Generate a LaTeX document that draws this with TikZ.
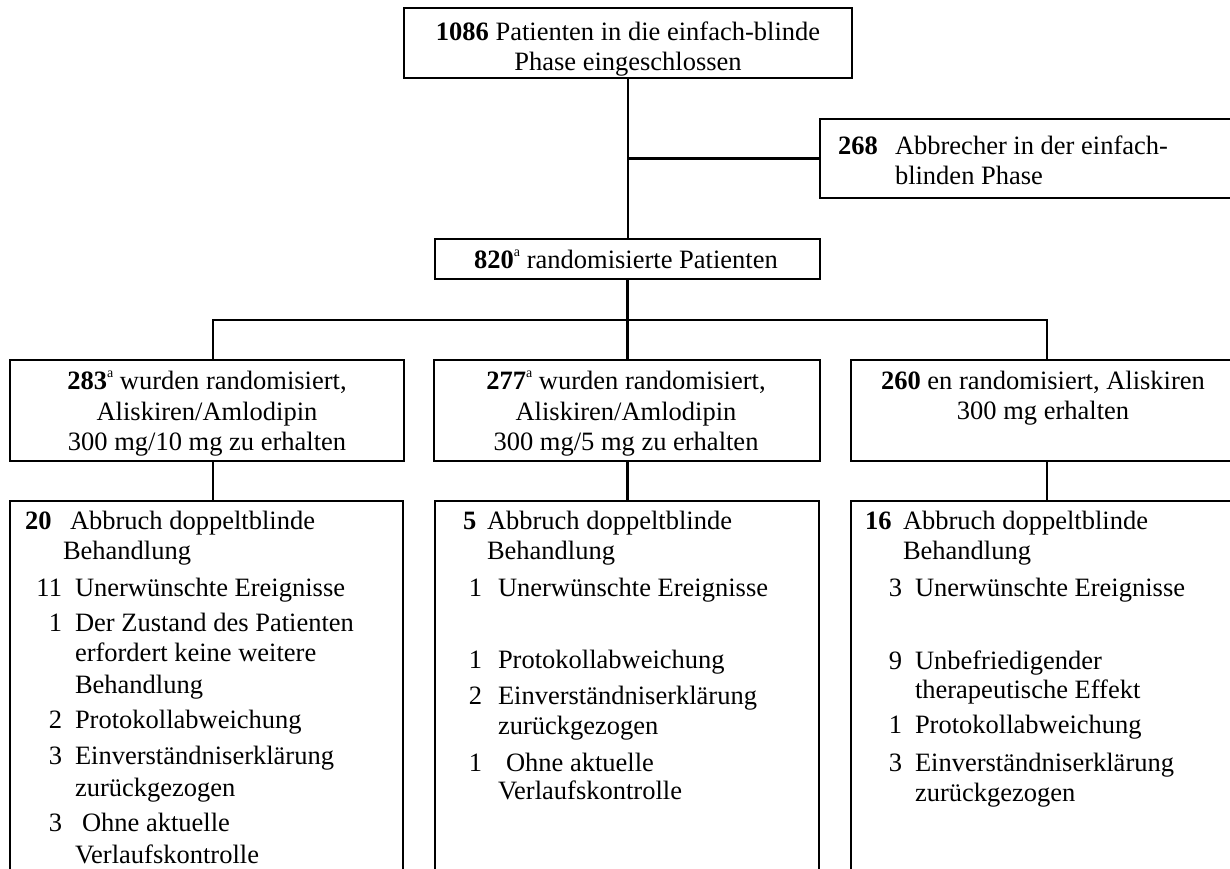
\documentclass[tikz,border=0pt]{standalone}
\usepackage{fontspec}
\setmainfont{Liberation Serif}
\newcommand\myfs{\fontsize{26.5}{30.5}\selectfont}
\newcommand\supa{\raisebox{0.42em}{\fontsize{14}{14}\selectfont a}}
\tikzset{
 box/.style={draw, line width=2.6pt, inner sep=0pt, outer sep=0pt},
 ln/.style={line width=2.6pt},
 txt/.style={inner sep=0pt, outer sep=0pt, font=\myfs},
 tw/.style={txt, anchor=base west},
 te/.style={txt, anchor=base east},
 tc/.style={txt, anchor=base},
}
\begin{document}
\begin{tikzpicture}[x=1pt,y=-1pt]
\useasboundingbox (0,0) rectangle (1230,868);
\clip (0,0) rectangle (1230,868);
% boxes
\node[box, minimum width=448pt, minimum height=70pt] (top) at (628,43) {};
\node[box, minimum width=480pt, minimum height=79pt] (abb) at (1060,158.5) {};
\node[box, minimum width=385pt, minimum height=40pt] (rand) at (627.5,259) {};
\node[box, minimum width=394pt, minimum height=101pt] (armA) at (207,410.5) {};
\node[box, minimum width=386pt, minimum height=101pt] (armB) at (627,410.5) {};
\node[box, minimum width=449pt, minimum height=101pt] (armC) at (1075.5,410.5) {};
\node[box, minimum width=393pt, minimum height=420pt] (outA) at (206.5,711) {};
\node[box, minimum width=384pt, minimum height=420pt] (outB) at (627,711) {};
\node[box, minimum width=449pt, minimum height=420pt] (outC) at (1075.5,711) {};
% connectors
\draw[ln] (top.south) -- (top.south |- rand.north);
\coordinate (br) at (top.south |- abb.west);
\draw[ln] (br) -- (abb.west);
\coordinate (jA) at (213,320);
\coordinate (jC) at (1047,320);
\draw[ln] (rand.south) -- (rand.south |- jA);
\draw[ln] (jA |- armA.north) -- (jA) -- (jC) -- (jC |- armC.north);
\draw[ln] (rand.south |- jA) -- (rand.south |- armB.north);
\draw[ln] (armA.south -| jA) -- (outA.north -| jA);
\draw[ln] (armB.south -| rand.south) -- (outB.north -| rand.south);
\draw[ln] (armC.south -| jC) -- (outC.north -| jC);
% top texts
\node[tc] (t1) at (628,40) {\textbf{1086} Patienten in die einfach-blinde};
\node[tc] (t2) at (628,70) {Phase eingeschlossen};
\node[tw] (b1n) at (838,154) {\textbf{268}};
\node[tw] (b1) at (895,154) {Abbrecher in der einfach-};
\node[tw] (b2) at (895,184) {blinden Phase};
\node[tc] (r1) at (626,268) {\textbf{820}\supa{} randomisierte Patienten};
% arms
\node[tc] (a1) at (207,389) {\textbf{283}\supa{} wurden randomisiert,};
\node[tc] (a2) at (207,420) {Aliskiren/Amlodipin};
\node[tc] (a3) at (207,450) {300 mg/10 mg zu erhalten};
\node[tc] (m1) at (626,389) {\textbf{277}\supa{} wurden randomisiert,};
\node[tc] (m2) at (626,420) {Aliskiren/Amlodipin};
\node[tc] (m3) at (626,450) {300 mg/5 mg zu erhalten};
\node[tc] (c1) at (1043,389) {\textbf{260} en randomisiert, Aliskiren};
\node[tc] (c2) at (1043,419) {300 mg erhalten};
% outcome A
\node[tw] (oa0) at (25,529) {\textbf{20}};
\node[tw] (oa1) at (70,529) {Abbruch doppeltblinde};
\node[tw] (oa2) at (63,559) {Behandlung};
\node[te] (oa3n) at (62,596) {11};
\node[tw] (oa3) at (75,596) {Unerwünschte Ereignisse};
\node[te] (oa4n) at (62,631) {1};
\node[tw] (oa4) at (75,631) {Der Zustand des Patienten};
\node[tw] (oa5) at (75,661) {erfordert keine weitere};
\node[tw] (oa6) at (75,693) {Behandlung};
\node[te] (oa7n) at (62,728) {2};
\node[tw] (oa7) at (75,728) {Protokollabweichung};
\node[te] (oa8n) at (62,764) {3};
\node[tw] (oa8) at (75,764) {Einverständniserklärung};
\node[tw] (oa9) at (75,796) {zurückgezogen};
\node[te] (oa10n) at (62,831) {3};
\node[tw] (oa10) at (82,831) {Ohne aktuelle};
\node[tw] (oa11) at (75,863) {Verlaufskontrolle};
% outcome B
\node[tw] (ob0) at (463,529) {\textbf{5}};
\node[tw] (ob1) at (487,529) {Abbruch doppeltblinde};
\node[tw] (ob2) at (487,559) {Behandlung};
\node[te] (ob3n) at (482,596) {1};
\node[tw] (ob3) at (498,596) {Unerwünschte Ereignisse};
\node[te] (ob4n) at (482,668) {1};
\node[tw] (ob4) at (498,668) {Protokollabweichung};
\node[te] (ob5n) at (482,704) {2};
\node[tw] (ob5) at (498,704) {Einverständniserklärung};
\node[tw] (ob6) at (498,734) {zurückgezogen};
\node[te] (ob7n) at (482,771) {1};
\node[tw] (ob7) at (506,771) {Ohne aktuelle};
\node[tw] (ob8) at (498,799) {Verlaufskontrolle};
% outcome C
\node[tw] (oc0) at (865,529) {\textbf{16}};
\node[tw] (oc1) at (903,529) {Abbruch doppeltblinde};
\node[tw] (oc2) at (903,559) {Behandlung};
\node[te] (oc3n) at (902,596) {3};
\node[tw] (oc3) at (915,596) {Unerwünschte Ereignisse};
\node[te] (oc4n) at (902,669) {9};
\node[tw] (oc4) at (915,669) {Unbefriedigender};
\node[tw] (oc5) at (915,698) {therapeutische Effekt};
\node[te] (oc6n) at (902,733) {1};
\node[tw] (oc6) at (915,733) {Protokollabweichung};
\node[te] (oc7n) at (902,771) {3};
\node[tw] (oc7) at (915,771) {Einverständniserklärung};
\node[tw] (oc8) at (915,801) {zurückgezogen};
\end{tikzpicture}
\end{document}
